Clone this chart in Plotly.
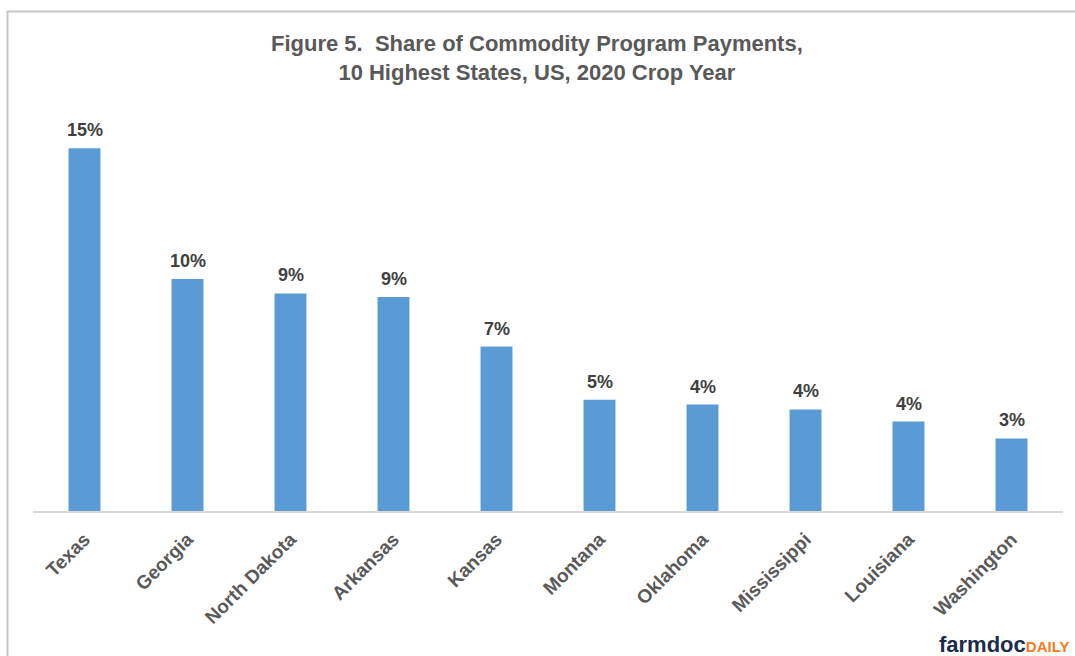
import plotly.graph_objects as go

states = ["Texas", "Georgia", "North Dakota", "Arkansas", "Kansas",
          "Montana", "Oklahoma", "Mississippi", "Louisiana", "Washington"]
share_pct = [15.0, 9.6, 9.0, 8.85, 6.8, 4.6, 4.4, 4.2, 3.7, 3.0]

W, H = 1075, 656
L, R, T, B = 33, 12, 100, 145
pw, ph = W - L - R, H - T - B

def px(x):
    return (x - L) / pw

def py(y):
    return (H - B - y) / ph

FONT = "Liberation Sans, Arial"

fig = go.Figure()
fig.add_trace(go.Bar(
    x=states, y=share_pct,
    marker=dict(color="#5b9bd5", line=dict(width=0)),
    width=0.31,
    hoverinfo="x+y",
))

for s, v in zip(states, share_pct):
    fig.add_annotation(
        x=s, y=v, text=f"{v:.0f}%", showarrow=False,
        xanchor="center", yanchor="bottom", yshift=6,
        font=dict(family=FONT, size=18, color="#404040", weight="bold"),
    )

fig.update_layout(
    width=W, height=H,
    margin=dict(l=L, r=R, t=T, b=B),
    paper_bgcolor="white", plot_bgcolor="white",
    showlegend=False,
    font=dict(family=FONT, color="#595959"),
    xaxis=dict(
        showline=True, linecolor="#d9d9d9", linewidth=1.5,
        ticks="", tickangle=-45, ticklabelstandoff=8,
        tickfont=dict(family=FONT, size=19, color="#595959", weight="bold"),
        showgrid=False,
    ),
    yaxis=dict(range=[0, 17], visible=False, showgrid=False),
    bargap=0.69,
)

fig.add_annotation(
    xref="paper", yref="paper", x=px(537), y=py(58),
    text="Figure 5.  Share of Commodity Program Payments,<br>10 Highest States, US, 2020 Crop Year",
    showarrow=False, xanchor="center", yanchor="middle",
    font=dict(family=FONT, size=22, color="#595959", weight="bold"),
)

fig.add_annotation(
    xref="paper", yref="paper", x=px(1071), y=py(644),
    text="<span style='color:#1c2b4b;font-size:22px'>farmdoc</span><span style='color:#f47b20;font-size:15px'>DAILY</span>",
    showarrow=False, xanchor="right", yanchor="middle",
    font=dict(family=FONT, weight="bold"),
)

# frame lines
fig.add_shape(type="line", xref="paper", yref="paper",
              x0=px(7), x1=px(1075), y0=py(11.5), y1=py(11.5),
              line=dict(color="#c6c6c6", width=2))
fig.add_shape(type="line", xref="paper", yref="paper",
              x0=px(7.5), x1=px(7.5), y0=py(11), y1=py(656),
              line=dict(color="#c6c6c6", width=2))

fig.write_html("out.html")
